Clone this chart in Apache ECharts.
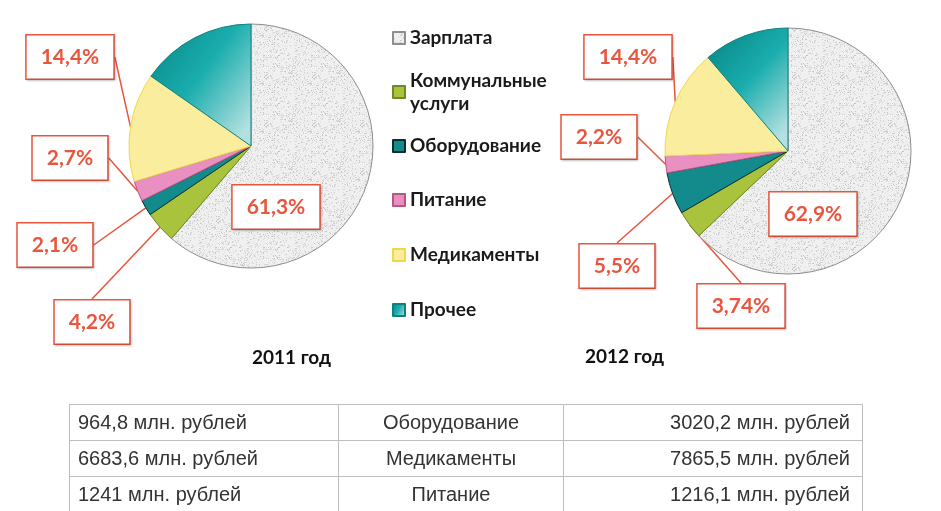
<!DOCTYPE html>
<html>
<head>
<meta charset="utf-8">
<script src="https://cdn.jsdelivr.net/npm/echarts@6/dist/echarts.min.js"></script>
<style>
  html, body { margin: 0; padding: 0; background: #fff; }
  #wrap { position: relative; width: 941px; height: 511px; overflow: hidden; }
  #chart { position: absolute; left: 0; top: 0; width: 941px; height: 511px; }
  #tbl { position: absolute; left: 69px; top: 404px; width: 794px; border-collapse: collapse; table-layout: fixed;
         font-family: "Liberation Sans", Arial, sans-serif; font-size: 20px; color: #333; }
  #tbl td { border: 1px solid #bdbdbd; height: 35px; padding: 0 12px 0 8px; white-space: nowrap; }
  #tbl td.c1 { width: 248px; text-align: left; }
  #tbl td.c2 { width: 224px; text-align: center; padding: 0; }
  #tbl td.c3 { text-align: right; }
</style>
</head>
<body>
<div id="wrap">
  <div id="chart"></div>
  <table id="tbl"><tbody id="tbody"></tbody></table>
</div>
<script>
// ---- data ----
const categories = ['Зарплата', 'Коммунальные услуги', 'Оборудование', 'Питание', 'Медикаменты', 'Прочее'];
const values2011 = [61.3, 4.2, 2.1, 2.7, 14.4, 15.3];
const values2012 = [62.9, 3.74, 5.5, 2.2, 14.4, 11.26];
const years = ['2011 год', '2012 год'];
const tableLeft = ['964,8 млн. рублей', '6683,6 млн. рублей', '1241 млн. рублей'];
const tableMid = ['Оборудование', 'Медикаменты', 'Питание'];
const tableRight = ['3020,2 млн. рублей', '7865,5 млн. рублей', '1216,1 млн. рублей'];

// ---- table ----
const tb = document.getElementById('tbody');
for (let i = 0; i < tableMid.length; i++) {
  const tr = document.createElement('tr');
  [[tableLeft[i], 'c1'], [tableMid[i], 'c2'], [tableRight[i], 'c3']].forEach(([t, c]) => {
    const td = document.createElement('td'); td.className = c; td.textContent = t; tr.appendChild(td);
  });
  tb.appendChild(tr);
}

// ---- styles ----
function makeTexture() {
  const c = document.createElement('canvas');
  c.width = c.height = 48;
  const ctx = c.getContext('2d');
  ctx.fillStyle = '#f0f0f0';
  ctx.fillRect(0, 0, 48, 48);
  let s = 12345;
  const next = () => { s = (Math.imul(s, 1103515245) + 12345) >>> 0; return s >>> 8; };
  for (let i = 0; i < 700; i++) {
    const x = next() % 48, y = next() % 48, g = 195 + next() % 45;
    ctx.fillStyle = 'rgb(' + g + ',' + g + ',' + g + ')';
    ctx.fillRect(x, y, 1, 1);
  }
  return c;
}
const texture = makeTexture();
const otherGrad = new echarts.graphic.LinearGradient(0, 0.2, 1, 0.8, [
  { offset: 0, color: '#0b8d8d' },
  { offset: 0.45, color: '#1aadad' },
  { offset: 1, color: '#b3e0e0' }
]);
const sliceStyles = [
  { color: { image: texture, repeat: 'repeat' }, borderColor: '#8e8e8e' },
  { color: '#a9c33c', borderColor: '#6f8a22' },
  { color: '#138a8c', borderColor: '#0b2f2f' },
  { color: '#ea8fc2', borderColor: '#b9557f' },
  { color: '#faed9e', borderColor: '#eed84a' },
  { color: otherGrad, borderColor: '#0f8080' }
];
const RED = '#e9553d';
const labelPos = [
  [[276, 207], [92, 322], [55, 245], [70, 158], [70, 57], null],
  [[813, 214], [741, 306], [617, 266], [599, 137], [628, 57], null]
];
const fmt = v => String(v).replace('.', ',') + '%';

function buildData(vals) {
  return categories.map((name, i) => {
    const d = { name: name, value: vals[i], itemStyle: Object.assign({ borderWidth: 1 }, sliceStyles[i]) };
    if (i === categories.length - 1) {
      d.label = { show: false }; d.labelLine = { show: false };
    } else if (i === 0) {
      d.label = { position: 'inside' }; d.labelLine = { show: false };
    }
    return d;
  });
}

function pieSeries(vals, center, radius, idx) {
  return {
    type: 'pie',
    center: center,
    radius: radius,
    startAngle: 90,
    clockwise: true,
    avoidLabelOverlap: false,
    silent: true,
    data: buildData(vals),
    label: {
      show: true,
      position: 'outside',
      formatter: p => fmt(p.value),
      fontFamily: 'Lato',
      fontWeight: 'bold',
      fontSize: 21,
      lineHeight: 24,
      color: RED,
      backgroundColor: '#fff',
      borderColor: RED,
      borderWidth: 1.5,
      padding: [10, 14, 9, 14],
      shadowColor: 'rgba(0,0,0,0.18)',
      shadowBlur: 2,
      shadowOffsetX: 1,
      shadowOffsetY: 1
    },
    labelLine: {
      show: true,
      length: 0, length2: 0,
      minTurnAngle: 180,
      lineStyle: { color: RED, width: 1.5 }
    },
    labelLayout: function (p) {
      const pos = labelPos[idx][p.dataIndex];
      if (!pos) return {};
      return { x: pos[0], y: pos[1], align: 'center', verticalAlign: 'middle' };
    }
  };
}

const legendTextBase = { fontFamily: 'Lato', fontWeight: 'bold', fontSize: 19, color: '#1a1a1a' };
const legendCenters = [38, 92, 146, 200, 255, 310];
const legends = categories.map((name, i) => {
  const lg = {
    orient: 'vertical',
    left: 392,
    padding: 0,
    itemWidth: 12,
    itemHeight: 12,
    itemGap: 0,
    selectedMode: false,
    data: [name],
    icon: 'rect',
    textStyle: Object.assign({}, legendTextBase)
  };
  if (name === 'Коммунальные услуги') {
    lg.formatter = () => 'Коммунальные\nуслуги';
    lg.textStyle.lineHeight = 23;
    lg.textStyle.padding = [23, 0, 0, 0];
    lg.top = legendCenters[i] - 34.5;
  } else {
    lg.top = legendCenters[i] - 11;
    lg.textStyle.lineHeight = 22;
  }
  return lg;
});

const chart = echarts.init(document.getElementById('chart'), null, { renderer: 'canvas' });
chart.setOption({
  animation: false,
  backgroundColor: '#fff',
  title: [
    { text: years[0], left: 252, top: 348, padding: 0, textStyle: { fontFamily: 'Lato', fontWeight: 'bold', fontSize: 19, color: '#111' } },
    { text: years[1], left: 585, top: 347, padding: 0, textStyle: { fontFamily: 'Lato', fontWeight: 'bold', fontSize: 19, color: '#111' } }
  ],
  legend: legends,
  series: [
    pieSeries(values2011, [251, 146], 122, 0),
    pieSeries(values2012, [788, 151], 123, 1)
  ]
});
</script>
</body>
</html>
